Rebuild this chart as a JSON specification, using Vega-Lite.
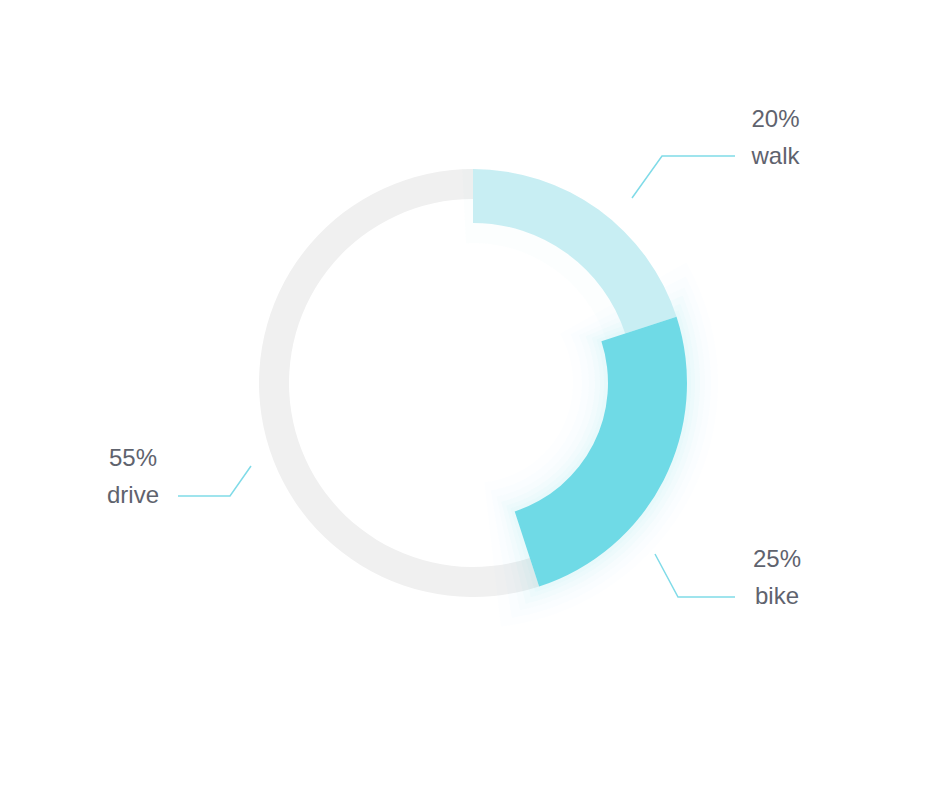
{
  "$schema": "https://vega.github.io/schema/vega-lite/v6.json",
  "width": 946,
  "height": 766,
  "padding": 0,
  "autosize": {"type": "none"},
  "background": "white",
  "config": {"view": {"stroke": null}, "font": "Liberation Sans"},
  "datasets": {
    "shares": [
      {"order": 1, "mode": "walk", "value": 20},
      {"order": 2, "mode": "bike", "value": 25},
      {"order": 3, "mode": "drive", "value": 55}
    ],
    "leaders": [
      {"mode": "walk", "step": 1, "x": 159, "y": 185},
      {"mode": "walk", "step": 2, "x": 189, "y": 227},
      {"mode": "walk", "step": 3, "x": 262, "y": 227},
      {"mode": "bike", "step": 1, "x": 182, "y": -171},
      {"mode": "bike", "step": 2, "x": 205, "y": -214},
      {"mode": "bike", "step": 3, "x": 262, "y": -214},
      {"mode": "drive", "step": 1, "x": -222, "y": -83},
      {"mode": "drive", "step": 2, "x": -243, "y": -113},
      {"mode": "drive", "step": 3, "x": -295, "y": -113}
    ],
    "labels": [
      {"mode": "walk", "pct": "20%", "tx": 302.5, "ty1": 256.5, "ty2": 219.5},
      {"mode": "bike", "pct": "25%", "tx": 304, "ty1": -183.7, "ty2": -221},
      {"mode": "drive", "pct": "55%", "tx": -340, "ty1": -83, "ty2": -120.3}
    ]
  },
  "transform": [],
  "layer": [
    {
      "data": {"name": "shares"},
      "transform": [
        {"window": [{"op": "sum", "field": "value", "as": "end"}], "sort": [{"field": "order"}]},
        {"calculate": "datum.end - datum.value", "as": "start"},
        {"filter": "datum.mode == 'drive'"}
      ],
      "mark": {"type": "arc", "innerRadius": 184, "outerRadius": 214, "color": "#f0f0f0"},
      "encoding": {
        "theta": {"field": "start", "type": "quantitative", "scale": {"domain": [0, 100]}},
        "theta2": {"field": "end"}
      }
    },
    {
      "data": {"name": "shares"},
      "transform": [
        {"window": [{"op": "sum", "field": "value", "as": "end"}], "sort": [{"field": "order"}]},
        {"calculate": "datum.end - datum.value", "as": "start"},
        {"filter": "datum.mode == 'bike'"}
      ],
      "mark": {"type": "arc", "innerRadius": 131, "outerRadius": 218, "thetaOffset": -0.025, "theta2Offset": 0.025, "color": "#6fdae6", "opacity": 0.03},
      "encoding": {
        "theta": {"field": "start", "type": "quantitative", "scale": {"domain": [0, 100]}},
        "theta2": {"field": "end"}
      }
    },
    {
      "data": {"name": "shares"},
      "transform": [
        {"window": [{"op": "sum", "field": "value", "as": "end"}], "sort": [{"field": "order"}]},
        {"calculate": "datum.end - datum.value", "as": "start"},
        {"filter": "datum.mode == 'bike'"}
      ],
      "mark": {"type": "arc", "innerRadius": 127, "outerRadius": 222, "thetaOffset": -0.05, "theta2Offset": 0.05, "color": "#6fdae6", "opacity": 0.03},
      "encoding": {
        "theta": {"field": "start", "type": "quantitative", "scale": {"domain": [0, 100]}},
        "theta2": {"field": "end"}
      }
    },
    {
      "data": {"name": "shares"},
      "transform": [
        {"window": [{"op": "sum", "field": "value", "as": "end"}], "sort": [{"field": "order"}]},
        {"calculate": "datum.end - datum.value", "as": "start"},
        {"filter": "datum.mode == 'bike'"}
      ],
      "mark": {"type": "arc", "innerRadius": 122, "outerRadius": 227, "thetaOffset": -0.08, "theta2Offset": 0.08, "color": "#6fdae6", "opacity": 0.03},
      "encoding": {
        "theta": {"field": "start", "type": "quantitative", "scale": {"domain": [0, 100]}},
        "theta2": {"field": "end"}
      }
    },
    {
      "data": {"name": "shares"},
      "transform": [
        {"window": [{"op": "sum", "field": "value", "as": "end"}], "sort": [{"field": "order"}]},
        {"calculate": "datum.end - datum.value", "as": "start"},
        {"filter": "datum.mode == 'bike'"}
      ],
      "mark": {"type": "arc", "innerRadius": 116, "outerRadius": 232, "thetaOffset": -0.11, "theta2Offset": 0.11, "color": "#6fdae6", "opacity": 0.025},
      "encoding": {
        "theta": {"field": "start", "type": "quantitative", "scale": {"domain": [0, 100]}},
        "theta2": {"field": "end"}
      }
    },
    {
      "data": {"name": "shares"},
      "transform": [
        {"window": [{"op": "sum", "field": "value", "as": "end"}], "sort": [{"field": "order"}]},
        {"calculate": "datum.end - datum.value", "as": "start"},
        {"filter": "datum.mode == 'bike'"}
      ],
      "mark": {"type": "arc", "innerRadius": 109, "outerRadius": 238, "thetaOffset": -0.15, "theta2Offset": 0.15, "color": "#6fdae6", "opacity": 0.02},
      "encoding": {
        "theta": {"field": "start", "type": "quantitative", "scale": {"domain": [0, 100]}},
        "theta2": {"field": "end"}
      }
    },
    {
      "data": {"name": "shares"},
      "transform": [
        {"window": [{"op": "sum", "field": "value", "as": "end"}], "sort": [{"field": "order"}]},
        {"calculate": "datum.end - datum.value", "as": "start"},
        {"filter": "datum.mode == 'bike'"}
      ],
      "mark": {"type": "arc", "innerRadius": 100, "outerRadius": 245, "thetaOffset": -0.2, "theta2Offset": 0.2, "color": "#6fdae6", "opacity": 0.015},
      "encoding": {
        "theta": {"field": "start", "type": "quantitative", "scale": {"domain": [0, 100]}},
        "theta2": {"field": "end"}
      }
    },
    {
      "data": {"name": "shares"},
      "transform": [
        {"window": [{"op": "sum", "field": "value", "as": "end"}], "sort": [{"field": "order"}]},
        {"calculate": "datum.end - datum.value", "as": "start"},
        {"filter": "datum.mode == 'walk'"}
      ],
      "mark": {"type": "arc", "innerRadius": 140, "outerRadius": 214, "thetaOffset": -0.05, "theta2Offset": 0.0, "color": "#6fdae6", "opacity": 0.025},
      "encoding": {
        "theta": {"field": "start", "type": "quantitative", "scale": {"domain": [0, 100]}},
        "theta2": {"field": "end"}
      }
    },
    {
      "data": {"name": "shares"},
      "transform": [
        {"window": [{"op": "sum", "field": "value", "as": "end"}], "sort": [{"field": "order"}]},
        {"calculate": "datum.end - datum.value", "as": "start"},
        {"filter": "datum.mode == 'walk'"}
      ],
      "mark": {"type": "arc", "innerRadius": 160, "outerRadius": 214, "color": "#c8eef3"},
      "encoding": {
        "theta": {"field": "start", "type": "quantitative", "scale": {"domain": [0, 100]}},
        "theta2": {"field": "end"}
      }
    },
    {
      "data": {"name": "shares"},
      "transform": [
        {"window": [{"op": "sum", "field": "value", "as": "end"}], "sort": [{"field": "order"}]},
        {"calculate": "datum.end - datum.value", "as": "start"},
        {"filter": "datum.mode == 'bike'"}
      ],
      "mark": {"type": "arc", "innerRadius": 135, "outerRadius": 214, "color": "#6fdae6"},
      "encoding": {
        "theta": {"field": "start", "type": "quantitative", "scale": {"domain": [0, 100]}},
        "theta2": {"field": "end"}
      }
    },
    {
      "data": {"name": "leaders"},
      "mark": {"type": "line", "color": "#80dbe8", "strokeWidth": 1.5},
      "encoding": {
        "x": {"field": "x", "type": "quantitative", "scale": {"domain": [-473, 473], "nice": false, "zero": false}, "axis": null},
        "y": {"field": "y", "type": "quantitative", "scale": {"domain": [-383, 383], "nice": false, "zero": false}, "axis": null},
        "detail": {"field": "mode"},
        "order": {"field": "step"}
      }
    },
    {
      "data": {"name": "labels"},
      "mark": {"type": "text", "fontSize": 24, "color": "#5f636e", "align": "center", "baseline": "alphabetic"},
      "encoding": {
        "x": {"field": "tx", "type": "quantitative", "scale": {"domain": [-473, 473], "nice": false, "zero": false}, "axis": null},
        "y": {"field": "ty1", "type": "quantitative", "scale": {"domain": [-383, 383], "nice": false, "zero": false}, "axis": null},
        "text": {"field": "pct"}
      }
    },
    {
      "data": {"name": "labels"},
      "mark": {"type": "text", "fontSize": 24, "color": "#5f636e", "align": "center", "baseline": "alphabetic"},
      "encoding": {
        "x": {"field": "tx", "type": "quantitative", "scale": {"domain": [-473, 473], "nice": false, "zero": false}, "axis": null},
        "y": {"field": "ty2", "type": "quantitative", "scale": {"domain": [-383, 383], "nice": false, "zero": false}, "axis": null},
        "text": {"field": "mode"}
      }
    }
  ]
}
